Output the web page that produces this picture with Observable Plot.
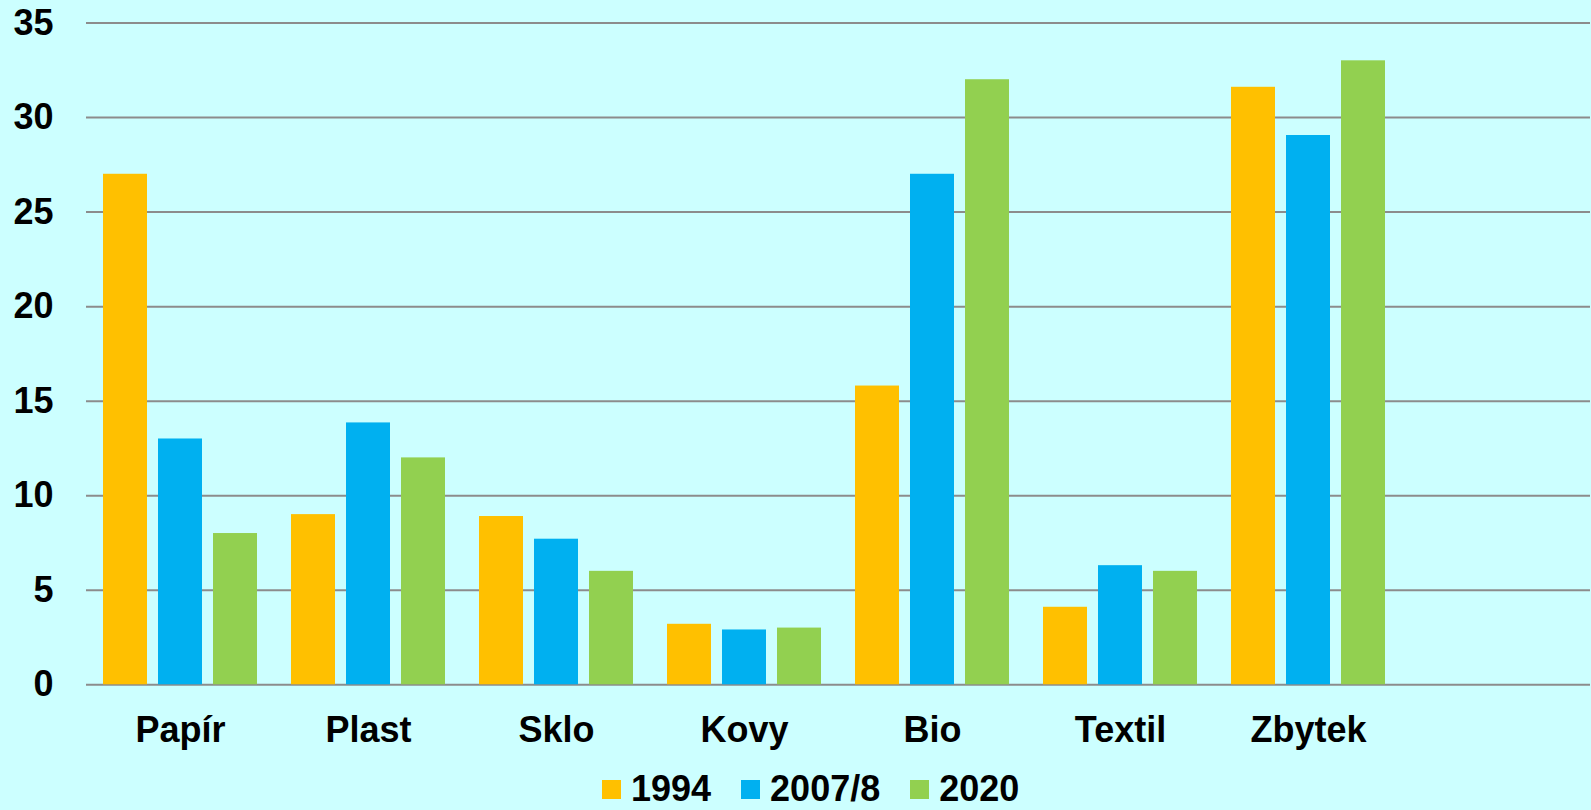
<!DOCTYPE html>
<html>
<head>
<meta charset="utf-8">
<script src="https://cdn.jsdelivr.net/npm/d3@7"></script>
<script src="https://cdn.jsdelivr.net/npm/@observablehq/plot@0.6"></script>
<style>
  html, body { margin: 0; padding: 0; background: #CCFFFF; }
  #wrap { position: relative; width: 1591px; height: 810px; background: #CCFFFF; overflow: hidden;
          font-family: "Liberation Sans", Arial, sans-serif; }
  #legend { position: absolute; top: 771px; left: 602px; display: flex; align-items: center;
            font-size: 36px; font-weight: bold; line-height: 36px; color: #000; }
  .sw { width: 19px; height: 19px; display: inline-block; margin-right: 10px; }
  .item { display: flex; align-items: center; margin-right: 30px; }
</style>
</head>
<body>
<div id="wrap">
  <div id="chart"></div>
  <div id="legend"></div>
</div>
<script>
const categories = ["Papír", "Plast", "Sklo", "Kovy", "Bio", "Textil", "Zbytek", ""];
const series = ["1994", "2007/8", "2020"];
const colors = ["#FFC000", "#00B0F0", "#92D050"];
const values1994 = [27.0, 9.0, 8.9, 3.2, 15.8, 4.1, 31.6];
const values2007 = [13.0, 13.85, 7.7, 2.9, 27.0, 6.3, 29.05];
const values2020 = [8.0, 12.0, 6.0, 3.0, 32.0, 6.0, 33.0];
const yTicks = [0, 5, 10, 15, 20, 25, 30, 35];

const seriesValues = [values1994, values2007, values2020];
const data = [];
categories.slice(0, 7).forEach((c, i) => {
  series.forEach((s, j) => data.push({category: c, series: s, value: seriesValues[j][i]}));
});
const grid = categories.flatMap(c => yTicks.map(t => ({category: c, tick: t})));

const chart = Plot.plot({
  width: 1591,
  height: 765,
  marginLeft: 84,
  marginRight: 0,
  marginTop: 22.5,
  marginBottom: 80.7,
  style: {background: "transparent", fontSize: "36px", fontWeight: "bold",
          fontFamily: "'Liberation Sans', Arial, sans-serif", color: "#000"},
  fx: {domain: categories, padding: 0, label: null, tickSize: 0, tickPadding: 32, axis: "bottom"},
  x: {domain: series, paddingInner: 0.207, paddingOuter: 0.297, axis: null},
  y: {domain: [0, 35], ticks: yTicks, tickSize: 0, tickPadding: 33, label: null},
  color: {domain: series, range: colors},
  marks: [
    Plot.ruleY(grid, {fx: "category", y: "tick", stroke: "#8C8C8C", strokeWidth: 2}),
    Plot.barY(data, {fx: "category", x: "series", y: "value", fill: "series"})
  ]
});
document.getElementById("chart").appendChild(chart);

const legend = document.getElementById("legend");
series.forEach((s, i) => {
  const item = document.createElement("div");
  item.className = "item";
  const sw = document.createElement("span");
  sw.className = "sw";
  sw.style.background = colors[i];
  const t = document.createElement("span");
  t.textContent = s;
  item.appendChild(sw);
  item.appendChild(t);
  legend.appendChild(item);
});
</script>
</body>
</html>
